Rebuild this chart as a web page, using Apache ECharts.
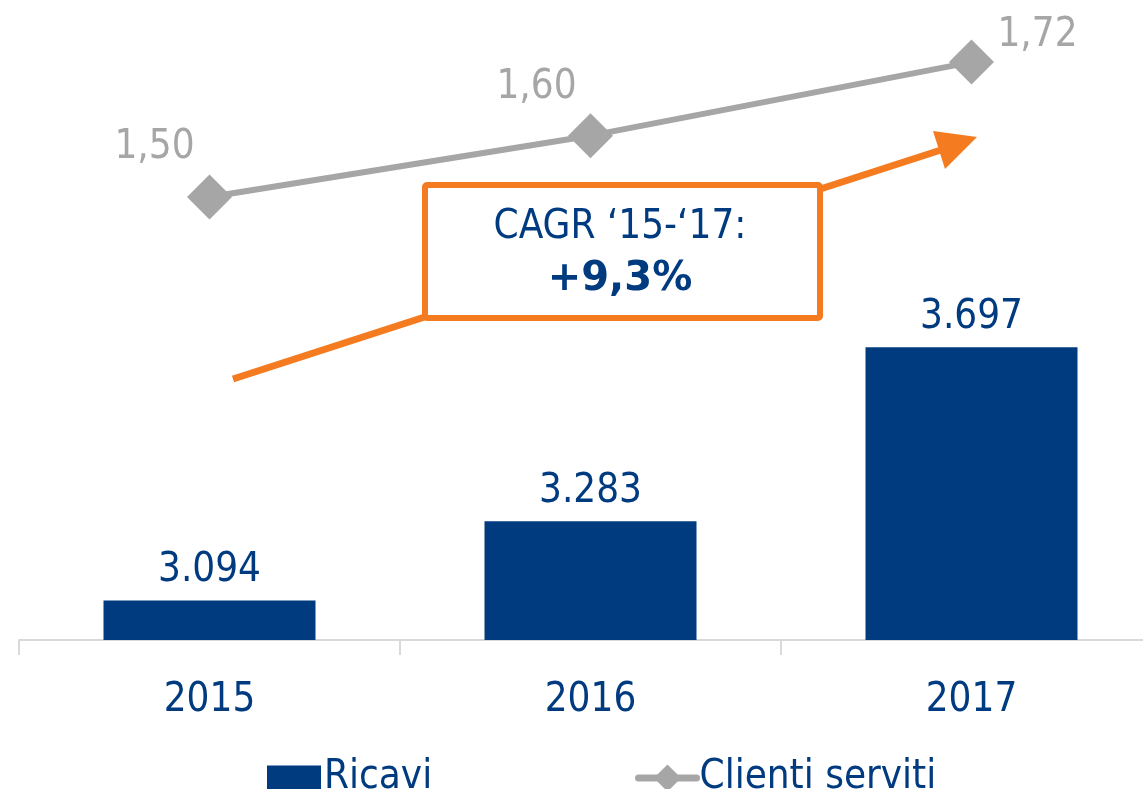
<!DOCTYPE html>
<html lang="it">
<head>
    <meta charset="UTF-8">
    <title>ricavi-clienti</title>
    <script src="https://cdn.jsdelivr.net/npm/echarts@6/dist/echarts.min.js"></script>
    <style>
        html, body {
            margin: 0;
            padding: 0;
            background: #fff;
        }
        #main {
            width: 1143px;
            height: 789px;
        }
    </style>
</head>
<body>
<div id="main"></div>
<script>
    // dati
    const years = ['2015', '2016', '2017'];
    const ricavi = [3094, 3283, 3697];
    const clienti = [1.50, 1.60, 1.72];

    const NAVY = '#003B80';
    const GREY = '#A6A6A6';
    const ORANGE = '#F47B20';
    const FONT = "'DejaVu Sans Condensed', 'DejaVu Sans', sans-serif";

    // spostamento etichette della linea (px)
    const lineLabelOffset = [[-55, -49], [-54, -48], [66, -26]];

    let myChart = echarts.init(document.getElementById('main'), null, {renderer: 'canvas'});

    const legendText = {
        fontFamily: FONT,
        fontSize: 40,
        lineHeight: 42,
        color: NAVY,
        padding: [0, 0, 0, -2]
    };

    let option = {
        animation: false,
        textStyle: {fontFamily: FONT},
        grid: {
            left: 19,
            top: 10,
            width: 1143,
            height: 630,
            outerBoundsMode: 'none'
        },
        // due legende per avere icone di altezza diversa
        legend: [
            {
                left: 262,
                top: 752,
                itemWidth: 54,
                itemHeight: 25,
                textStyle: legendText,
                data: [{name: 'Ricavi', icon: 'rect'}]
            },
            {
                left: 630,
                top: 752,
                itemWidth: 58,
                itemHeight: 34,
                textStyle: legendText,
                lineStyle: {width: 7, cap: 'round'},
                data: [{name: 'Clienti serviti'}]
            }
        ],
        xAxis: {
            type: 'category',
            data: years,
            boundaryGap: true,
            axisLine: {lineStyle: {color: '#D9D9D9', width: 2}},
            axisTick: {show: true, length: 15, lineStyle: {color: '#D9D9D9', width: 2}},
            axisLabel: {
                margin: 41,
                fontFamily: FONT,
                fontSize: 40,
                color: NAVY
            }
        },
        yAxis: [
            {type: 'value', min: 3000, max: 4500, show: false},
            {type: 'value', min: 0.7773, max: 1.805, show: false}
        ],
        series: [
            {
                name: 'Ricavi',
                type: 'bar',
                yAxisIndex: 0,
                barWidth: 212,
                itemStyle: {color: NAVY},
                label: {
                    show: true,
                    position: 'top',
                    distance: 10,
                    fontFamily: FONT,
                    fontSize: 40,
                    color: NAVY,
                    formatter: p => p.value.toLocaleString('it-IT')
                },
                data: ricavi
            },
            {
                name: 'Clienti serviti',
                type: 'line',
                yAxisIndex: 1,
                symbol: 'diamond',
                symbolSize: 45,
                lineStyle: {color: GREY, width: 6},
                itemStyle: {color: GREY},
                label: {
                    show: true,
                    position: 'inside',
                    fontFamily: FONT,
                    fontSize: 40,
                    color: GREY,
                    formatter: p => p.value.toFixed(2).replace('.', ',')
                },
                data: clienti.map((v, i) => ({
                    value: v,
                    label: {offset: lineLabelOffset[i]}
                }))
            }
        ],
        // freccia CAGR con riquadro
        graphic: [
            {
                type: 'line',
                z: 100,
                shape: {x1: 233, y1: 379, x2: 944, y2: 149},
                style: {stroke: ORANGE, lineWidth: 7}
            },
            {
                type: 'polygon',
                z: 100,
                shape: {points: [[933, 131], [977, 137], [945, 169]]},
                style: {fill: ORANGE}
            },
            {
                type: 'rect',
                z: 101,
                shape: {x: 425, y: 185, width: 395, height: 133, r: 2},
                style: {fill: '#fff', stroke: ORANGE, lineWidth: 6}
            },
            {
                type: 'text',
                z: 102,
                x: 620,
                y: 228,
                style: {
                    text: 'CAGR ‘15-‘17:',
                    font: '40px ' + FONT,
                    fill: NAVY,
                    align: 'center',
                    verticalAlign: 'middle'
                }
            },
            {
                type: 'text',
                z: 102,
                x: 620,
                y: 280,
                style: {
                    text: '+9,3%',
                    font: "bold 40px 'DejaVu Sans', sans-serif",
                    fill: NAVY,
                    align: 'center',
                    verticalAlign: 'middle'
                }
            }
        ]
    };

    myChart.setOption(option);
</script>
</body>
</html>
